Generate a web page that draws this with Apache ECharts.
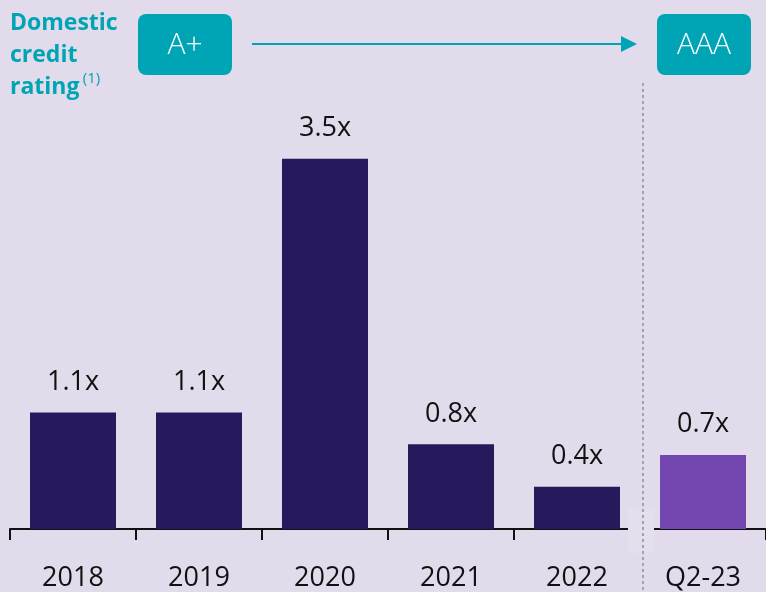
<!DOCTYPE html>
<html>
<head>
<meta charset="utf-8">
<script src="https://cdn.jsdelivr.net/npm/echarts@6/dist/echarts.min.js"></script>
<style>
  html, body { margin: 0; padding: 0; background: #e2dbeb; }
  #main { width: 766px; height: 592px; }
</style>
</head>
<body>
<div id="main"></div>
<script>
// data
const categories = ['2018', '2019', '2020', '2021', '2022', 'Q2-23'];
const leverage = [1.1, 1.1, 3.5, 0.8, 0.4, 0.7];
const ratingFrom = 'A+';
const ratingTo = 'AAA';

const teal = '#00a5b5';
const font = 'Open Sans';

const chart = echarts.init(document.getElementById('main'));
chart.setOption({
  backgroundColor: '#e2dbeb',
  animation: false,
  grid: { left: 10, top: 0, bottom: 62, width: 760 },
  xAxis: {
    type: 'category',
    data: categories,
    axisLine: { lineStyle: { color: '#111', width: 2 } },
    axisTick: { show: true, length: 11, lineStyle: { color: '#111', width: 2 } },
    axisLabel: { color: '#111', fontSize: 27, fontFamily: font, margin: 36 }
  },
  yAxis: {
    type: 'value',
    min: 0,
    max: 5,
    show: false,
    splitLine: { show: false }
  },
  series: [{
    type: 'bar',
    barWidth: 86,
    data: leverage.map((v, i) => ({
      value: v,
      itemStyle: { color: i === leverage.length - 1 ? '#7345ae' : '#271a5c' }
    })),
    label: {
      show: true,
      position: 'top',
      distance: 17,
      color: '#111',
      fontSize: 27,
      fontFamily: font,
      formatter: p => p.value + 'x'
    }
  }],
  graphic: [
    // gap in axis line around the separator
    { type: 'rect', shape: { x: 628, y: 509, width: 26, height: 44 }, style: { fill: '#e5dfed' }, z: 100 },
    // dotted separator
    { type: 'line', shape: { x1: 643, y1: 83, x2: 643, y2: 592 },
      style: { stroke: '#a4a1a9', lineWidth: 2, lineDash: [3, 3] }, z: 101 },
    // title text
    { type: 'text', left: 10, top: 12,
      style: {
        text: '{b|Domestic}\n{b|credit}\n{b|rating} {s|(1)}',
        rich: {
          b: { fontSize: 23, fontWeight: 'bold', fill: teal, fontFamily: font, lineHeight: 32 },
          s: { fontSize: 15, fill: teal, fontFamily: font, verticalAlign: 'top', padding: [0, 0, 14, 0] }
        }
      } },
    // rating boxes
    { type: 'rect', shape: { x: 138, y: 14, width: 94, height: 61, r: 8 }, style: { fill: teal } },
    { type: 'text', x: 185, y: 45, style: { text: ratingFrom, fill: '#fff', fontSize: 30, fontFamily: font, fontWeight: 300, align: 'center', verticalAlign: 'middle' } },
    { type: 'rect', shape: { x: 657, y: 14, width: 94, height: 61, r: 8 }, style: { fill: teal } },
    { type: 'text', x: 704, y: 45, style: { text: ratingTo, fill: '#fff', fontSize: 30, fontFamily: font, fontWeight: 300, align: 'center', verticalAlign: 'middle' } },
    // arrow
    { type: 'line', shape: { x1: 252, y1: 44, x2: 622, y2: 44 }, style: { stroke: teal, lineWidth: 2 } },
    { type: 'polygon', shape: { points: [[621, 36], [637, 44], [621, 52]] }, style: { fill: teal } }
  ]
});
window.onresize = function () {
  chart.resize();
};
</script>
</body>
</html>
